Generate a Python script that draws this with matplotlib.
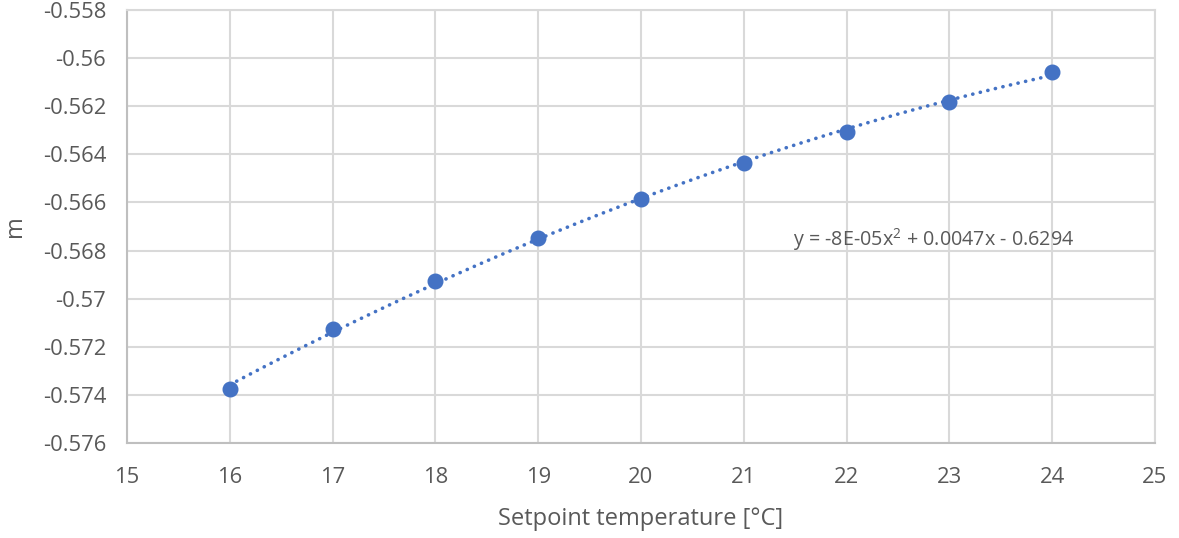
import numpy as np
import matplotlib
matplotlib.use("Agg")
import matplotlib.pyplot as plt

setpoints = [16, 17, 18, 19, 20, 21, 22, 23, 24]
m_values = [-0.57375, -0.57126, -0.56926, -0.56748, -0.56585, -0.56436, -0.56307, -0.56182, -0.56058]
x_ticks = [15, 16, 17, 18, 19, 20, 21, 22, 23, 24, 25]
y_ticks = [-0.576, -0.574, -0.572, -0.57, -0.568, -0.566, -0.564, -0.562, -0.56, -0.558]
y_tick_labels = ["-0.576", "-0.574", "-0.572", "-0.57", "-0.568", "-0.566", "-0.564", "-0.562", "-0.56", "-0.558"]
equation = "y = -8E-05x$^2$ + 0.0047x - 0.6294"

plt.rcParams['font.family'] = ['Open Sans', 'DejaVu Sans']
plt.rcParams['mathtext.fontset'] = 'custom'
plt.rcParams['mathtext.rm'] = 'Open Sans'
plt.rcParams['mathtext.it'] = 'Open Sans'
blue = '#4472C4'
grey_text = '#595959'
grid_c = '#D9D9D9'

fig = plt.figure(figsize=(11.79, 5.38), dpi=100)
ax = fig.add_axes([0.1077, 0.1766, 0.8719, 0.8048])

# trendline (polynomial order 2)
coef = np.polyfit(setpoints, m_values, 2)
xs = np.linspace(min(setpoints), max(setpoints), 200)
ax.plot(xs, np.polyval(coef, xs), linestyle=(0, (0.05, 2.1)), color=blue, lw=2.6,
        dash_capstyle='round', solid_capstyle='round', zorder=2)
ax.plot(setpoints, m_values, 'o', color=blue, markersize=10.5, zorder=3)

ax.set_xlim(15, 25)
ax.set_ylim(-0.576, -0.558)
ax.set_xticks(x_ticks)
ax.set_yticks(y_ticks)
ax.set_yticklabels(y_tick_labels)
ax.grid(True, color=grid_c, lw=1.5)
ax.set_axisbelow(True)
for s in ax.spines.values():
    s.set_color(grid_c)
    s.set_linewidth(1.5)
ax.spines['left'].set_color('#BFBFBF')
ax.spines['bottom'].set_color('#BFBFBF')
ax.tick_params(length=0, labelsize=15.8, labelcolor=grey_text)
ax.tick_params(axis='x', pad=17)
ax.tick_params(axis='y', pad=15)
ax.set_xlabel("Setpoint temperature [°C]", fontsize=17, color=grey_text, labelpad=14)
ax.set_ylabel("m", fontsize=17, color=grey_text, labelpad=11)

ax.text(21.48, -0.56756, equation, fontsize=14.2, color=grey_text, ha='left', va='center')

fig.savefig("out.png", dpi=100)
